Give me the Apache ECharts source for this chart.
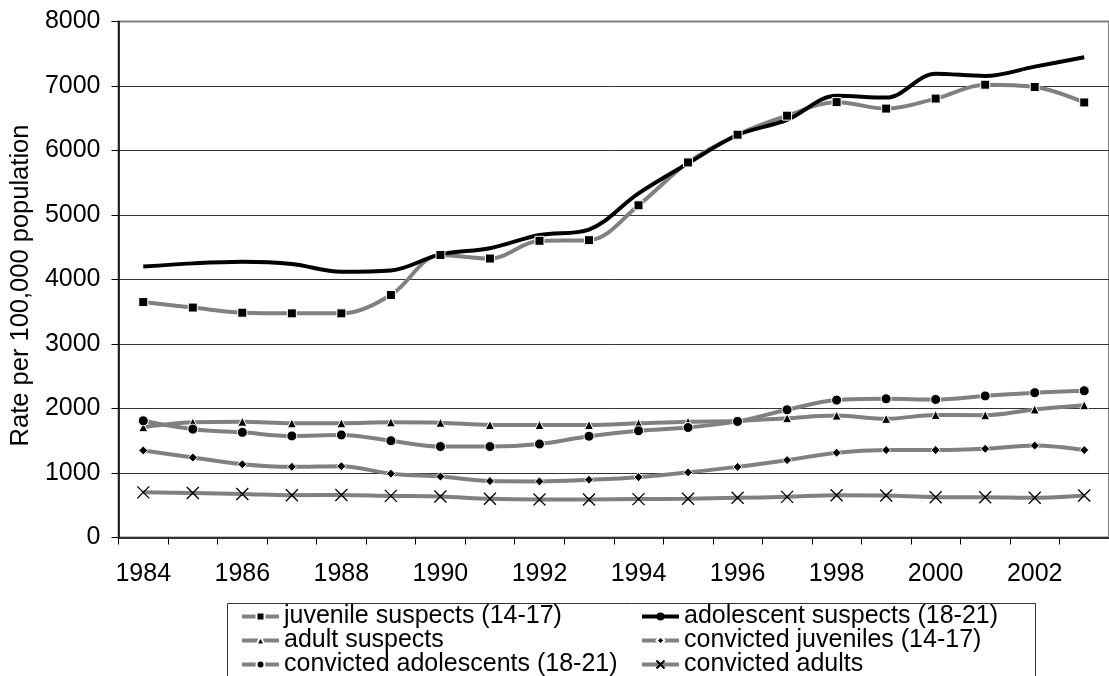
<!DOCTYPE html>
<html><head><meta charset="utf-8">
<script src="https://cdn.jsdelivr.net/npm/echarts@6/dist/echarts.min.js"></script>
<style>html,body{margin:0;padding:0;background:#fff}#c{width:1109px;height:676px}</style>
</head><body><div id="c"></div>
<script>
const years = ['1984','1985','1986','1987','1988','1989','1990','1991','1992','1993','1994','1995','1996','1997','1998','1999','2000','2001','2002','2003'];
const juvenileSuspects = [3650,3565,3485,3475,3475,3760,4380,4325,4600,4610,5150,5815,6245,6540,6750,6650,6805,7020,6985,6745];
const adolescentSuspects = [4200,4250,4275,4240,4120,4140,4390,4485,4690,4775,5335,5800,6240,6475,6850,6820,7190,7155,7300,7445];
const adultSuspects = [1710,1785,1795,1770,1770,1785,1780,1745,1745,1745,1770,1795,1805,1850,1890,1840,1900,1895,1985,2050];
const convictedJuveniles = [1350,1240,1135,1095,1105,990,945,875,870,895,935,1010,1095,1200,1315,1355,1355,1375,1425,1355];
const convictedAdolescents = [1810,1680,1630,1575,1590,1500,1410,1410,1450,1570,1655,1705,1800,1980,2130,2150,2140,2195,2245,2275];
const convictedAdults = [700,690,675,655,660,645,635,600,590,590,595,600,615,630,655,650,625,625,615,650];
const names = ['juvenile suspects (14-17)','adolescent suspects (18-21)','adult suspects','convicted juveniles (14-17)','convicted adolescents (18-21)','convicted adults'];

const FONT = '"Liberation Sans", Arial, sans-serif';
const GRAY = '#808080';
const mk = {color:'#000', borderColor:'#fff', borderWidth:1};
function ser(name, data, symbol, size, extra) {
  return Object.assign({
    name: name, type:'line', data: data, smooth: 0.35,
    symbol: symbol, symbolSize: size, showSymbol: true,
    lineStyle: {color: GRAY, width: 4},
    itemStyle: mk
  }, extra || {});
}
const legendCols = [240, 640];
const legendRows = [604, 628, 652];
const legends = names.map(function (n, i) {
  return {
    data: [n], orient: 'horizontal', left: legendCols[i % 2], top: legendRows[Math.floor(i / 2)], padding: 0,
    itemWidth: 37, itemHeight: 10, itemGap: 0,
    lineStyle: {width: 4},
    textStyle: {fontSize: 25, lineHeight: 24, color: '#000', fontFamily: FONT}
  };
});
const chart = echarts.init(document.getElementById('c'), null, {renderer:'canvas'});
chart.setOption({
  animation: false,
  backgroundColor: '#fff',
  textStyle: {fontFamily: FONT},
  grid: {left: 118.3, top: 21.5, width: 996, height: 516, show: true, borderColor: GRAY, borderWidth: 2, backgroundColor: 'transparent'},
  xAxis: {
    type: 'category', data: years, boundaryGap: true,
    axisLine: {lineStyle: {color: '#333', width: 2}},
    axisTick: {show: true, interval: 0, length: 7, lineStyle: {color: '#000', width: 1}},
    axisLabel: {interval: 1, fontSize: 25, color: '#000', margin: 24, fontFamily: FONT},
    splitLine: {show: false}
  },
  yAxis: {
    type: 'value', min: 0, max: 8000, interval: 1000,
    name: 'Rate per 100,000 population', nameLocation: 'middle', nameGap: 84,
    nameTextStyle: {fontSize: 25.5, color: '#000', fontFamily: FONT, padding: [0, 12, 0, 0]},
    axisLine: {show: true, lineStyle: {color: '#000', width: 1.5}},
    axisTick: {show: true, length: 7, lineStyle: {color: '#000', width: 1}},
    axisLabel: {fontSize: 25, color: '#000', margin: 18, fontFamily: FONT, formatter: function (v) { return String(v); }},
    splitLine: {show: true, lineStyle: {color: ['#333','#333','#333','#333','#333','#333','#333','#333', GRAY], width: 1}}
  },
  legend: legends,
  graphic: [{type: 'rect', left: 225, top: 601, shape: {width: 808, height: 120}, style: {fill: 'none', stroke: '#333', lineWidth: 1}, z: 0}],
  series: [
    ser(names[0], juvenileSuspects, 'rect', 9),
    ser(names[1], adolescentSuspects, 'none', 0, {lineStyle: {color: '#000', width: 4}, itemStyle: {color: '#000'}}),
    ser(names[2], adultSuspects, 'triangle', 9),
    ser(names[3], convictedJuveniles, 'diamond', 9),
    ser(names[4], convictedAdolescents, 'circle', 10),
    ser(names[5], convictedAdults, 'path://M0,0L10,10M10,0L0,10', 12, {itemStyle: {color: '#000', borderColor: '#000', borderWidth: 1.3}})
  ]
});
</script></body></html>
